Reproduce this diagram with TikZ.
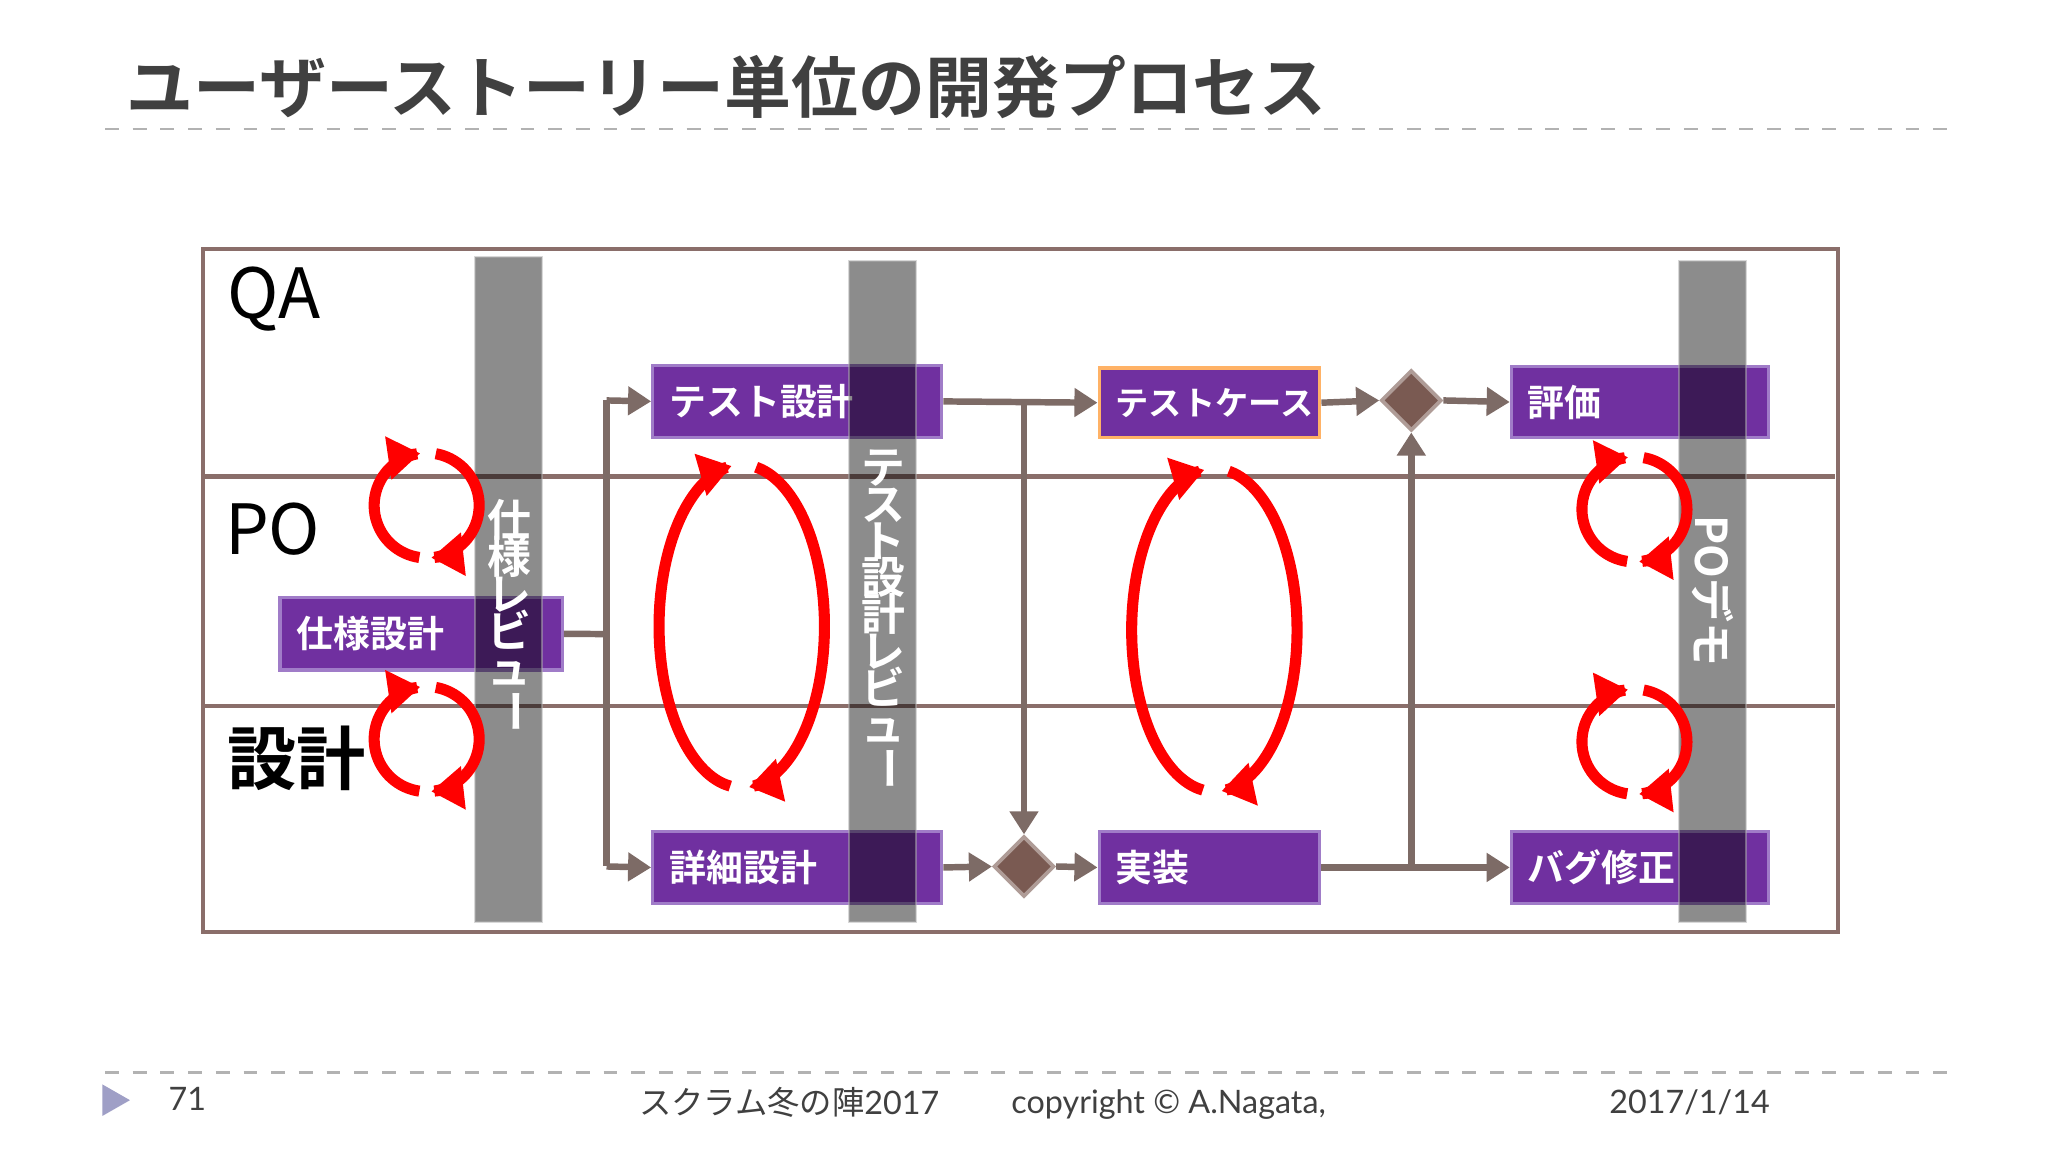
\documentclass[tikz,border=0pt]{standalone}
\usepackage{fontspec}
\setmainfont{Lato}
\newfontfamily\jp{Noto Sans CJK JP}
\newfontfamily\jpb{Noto Sans CJK JP Bold}
\usetikzlibrary{arrows.meta,shapes.geometric}
\definecolor{purp}{HTML}{7030A0}
\definecolor{purpb}{HTML}{A07CC8}
\definecolor{conn}{HTML}{7D6B66}
\definecolor{lane}{HTML}{8A6E6A}
\definecolor{dia}{HTML}{7A5A52}
\newcommand{\vbar}{\rotatebox[origin=c]{-90}{ー}}
\tikzset{
 box/.style={draw=purpb,fill=purp,line width=0.7pt,text=white,font=\jpb\fontsize{8}{9}\selectfont,inner xsep=0.1cm,anchor=north west},
 bar/.style={fill=black,fill opacity=0.45,draw=gray!60,draw opacity=0.5},
 conn/.style={draw=conn,line width=1.4pt,-{Triangle[length=5pt,width=6pt]}},
 connn/.style={draw=conn,line width=1.4pt},
 dmd/.style={diamond,fill=dia,draw=dia!60!white,line width=0.8pt,minimum width=0.46cm,minimum height=0.46cm,inner sep=0pt},
 cyc/.style={draw=red,line width=2.4pt,-{Triangle[length=7pt,width=9pt]}},
 vt/.style={text=white,font=\jpb\fontsize{9.5}{11}\selectfont,align=center},
 lanelbl/.style={font=\jp\fontsize{15}{16}\selectfont,anchor=west},
 foot/.style={font=\fontsize{7}{8}\selectfont,text=black!75}
}
\begin{document}
\begin{tikzpicture}[x=0.01cm,y=-0.01cm]
\useasboundingbox[fill=white] (0,0) rectangle (1560,878);
% title
\node[anchor=west,font=\jpb\fontsize{14.5}{16}\selectfont,text=black!75] (title) at (84,66) {ユーザーストーリー単位の開発プロセス};
\draw[dashed,gray!60,line width=0.5pt] (80,98) -- (1490,98);
% lanes
\node[draw=lane,line width=0.9pt,minimum width=12.45cm,minimum height=5.2cm,anchor=north west,inner sep=0pt] (frame) at (153,188) {};
\draw[lane,line width=0.9pt] (153,363) -- (1398,363) (153,538) -- (1398,538);
\node[lanelbl] (qa) at (161,228) {QA};
\node[lanelbl] (po) at (159,403) {PO};
\node[lanelbl,font=\jpb\fontsize{15}{16}\selectfont] (sk) at (161,578) {設計};
% boxes
\node[box,minimum width=2.15cm,minimum height=0.55cm,text width=1.9cm] (shiyou) at (212,454) {仕様設計};
\node[box,minimum width=2.2cm,minimum height=0.55cm,text width=1.95cm] (tsek) at (496,277) {テスト設計};
\node[box,minimum width=2.2cm,minimum height=0.55cm,text width=1.95cm] (shosai) at (496,632) {詳細設計};
\node[box,draw=orange!60,minimum width=1.68cm,minimum height=0.53cm,text width=1.43cm,font=\jpb\fontsize{7.2}{9}\selectfont] (tcase) at (836,279) {テストケース};
\node[box,minimum width=1.68cm,minimum height=0.55cm,text width=1.43cm] (jisso) at (836,632) {実装};
\node[box,minimum width=1.96cm,minimum height=0.54cm,text width=1.71cm] (hyoka) at (1150,278) {評価};
\node[box,minimum width=1.96cm,minimum height=0.55cm,text width=1.71cm] (bug) at (1150,632) {バグ修正};
% bars
\draw[bar] (362,196) rectangle (413,702);
\draw[bar] (647,199) rectangle (698,702);
\draw[bar] (1279,199) rectangle (1330,702);
\node[vt,anchor=north] (v1) at (388,368) {仕\\[-3pt]様\\[-3pt]レ\\[-3pt]ビ\\[-3pt]ュ\\[-3pt]\vbar};
\node[vt,anchor=north] (v2) at (673,330) {テ\\[-3pt]ス\\[-3pt]ト\\[-3pt]設\\[-3pt]計\\[-3pt]レ\\[-3pt]ビ\\[-3pt]ュ\\[-3pt]\vbar};
\node[vt,rotate=-90] (v3) at (1305,450) {POデモ};
% diamonds
\node[dmd] (d1) at (780,660) {};
\node[dmd] (d2) at (1075,305) {};
% connectors
\coordinate (j1) at (462,483);
\coordinate (j1t) at (462,305);
\coordinate (j1b) at (462,660);
\coordinate (j2) at (780,305);
\coordinate (j3) at (1075,660);
\draw[connn] (shiyou.east) -- (j1);
\draw[connn] (j1t) -- (j1b);
\draw[conn] (j1t) -- (tsek.west);
\draw[conn] (j1b) -- (shosai.west);
\draw[conn] (tsek.east) -- (tcase.west);
\draw[conn] (j2) -- (d1.north);
\draw[conn] (shosai.east) -- (d1.west);
\draw[conn] (d1.east) -- (jisso.west);
\draw[conn] (tcase.east) -- (d2.west);
\draw[conn] (d2.east) -- (hyoka.west);
\draw[conn] (jisso.east) -- (bug.west);
\draw[conn] (j3) -- (d2.south);
% red cycles
\foreach \cx/\cy/\rx/\ry in {325/385/40/40,325/563/40/40,1245/388/40/40,1245/565/40/40,565/477/63/123,925/480/63/123}{
 \draw[cyc] plot[domain=-262:-97,samples=40,smooth] ({\cx+\rx*cos(\x)},{\cy+\ry*sin(\x)});
 \draw[cyc] plot[domain=-80:85,samples=40,smooth] ({\cx+\rx*cos(\x)},{\cy+\ry*sin(\x)});
}
% footer
\draw[dashed,gray!60,line width=0.5pt] (80,817) -- (1490,817);
\fill[blue!25!gray!60] (78,826) -- (99,838) -- (78,850) -- cycle;
\node[foot,anchor=west] (pg) at (116,837) {71};
\node[foot,anchor=east] (ev) at (728,840) {{\jp スクラム冬の陣}2017};
\node[foot,anchor=west] (cp) at (758,841) {copyright © A.Nagata,};
\node[foot] (dt) at (1287,840) {2017/1/14};
\end{tikzpicture}
\end{document}
